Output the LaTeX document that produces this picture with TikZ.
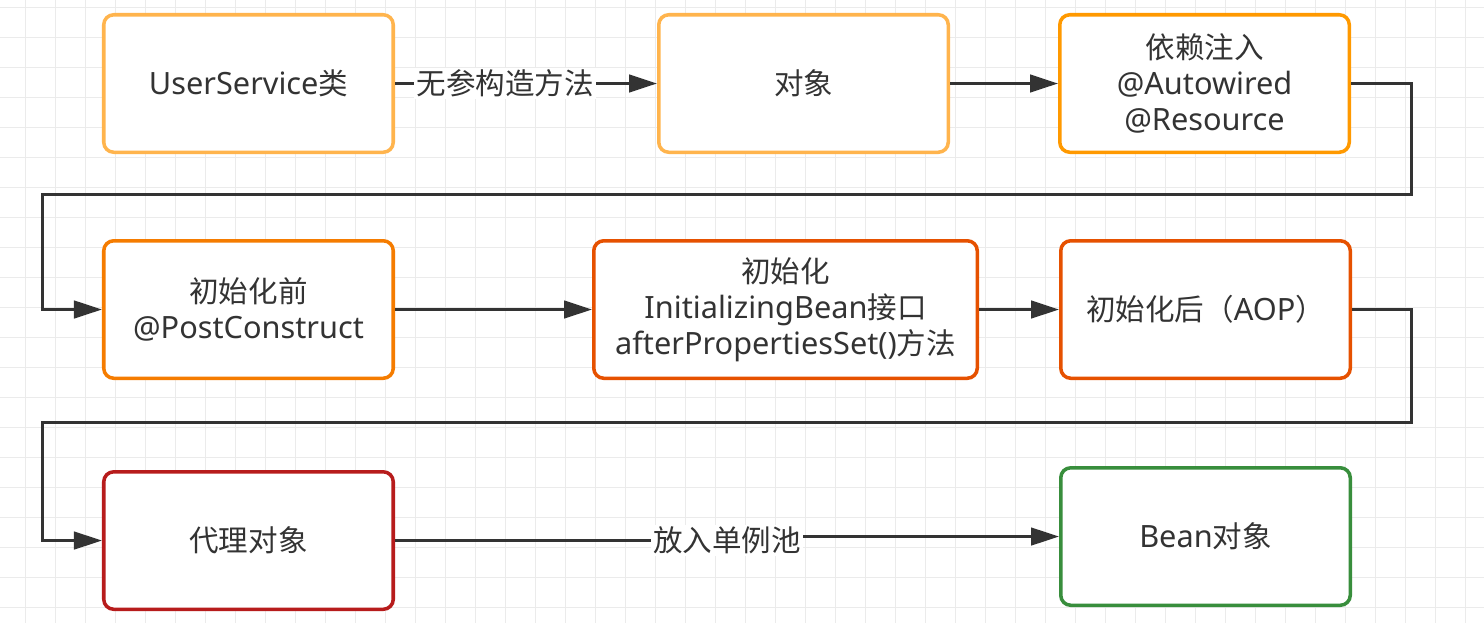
\documentclass[tikz,border=0pt]{standalone}
\usepackage{fontspec}
\setmainfont[Scale=1.04]{Noto Sans}
\newfontfamily\cjkfont{Noto Sans CJK SC}
\newcommand{\zh}[1]{{\cjkfont #1}}
\usepackage{tikz}
\usetikzlibrary{positioning, arrows.meta, calc}
\definecolor{beanPale}{HTML}{FFB44D}
\definecolor{beanAmber}{HTML}{FF9900}
\definecolor{beanOrange}{HTML}{F57C00}
\definecolor{beanDeep}{HTML}{E65100}
\definecolor{beanRed}{HTML}{B71C1C}
\definecolor{beanGreen}{HTML}{388E3C}
\definecolor{beanInk}{HTML}{333333}
\definecolor{beanGrid}{HTML}{EBEBEB}
\tikzset{
    beanBoxBase/.style={
        rectangle,
        draw,
        rounded corners=0.2cm,
        line width=2pt,
        minimum height=2.75cm,
        minimum width=5.79cm,
        fill=white,
        text=beanInk,
        font=\fontsize{16.8}{20.5}\selectfont,
        align=center,
        inner sep=0pt
    },
    % Stage Variants
    pale/.style={beanBoxBase, draw=beanPale},
    amber/.style={beanBoxBase, draw=beanAmber},
    orange/.style={beanBoxBase, draw=beanOrange},
    deep/.style={beanBoxBase, draw=beanDeep},
    proxyred/.style={beanBoxBase, draw=beanRed},
    done/.style={beanBoxBase, draw=beanGreen},
    % Background
    gridLine/.style={draw=beanGrid, line width=0.5pt},
    % Arrows
    beanWire/.style={draw=beanInk, line width=0.06cm},
    beanArrow/.style={beanWire, -{Triangle[length=0.56cm, width=0.35cm]}},
    beanLabel/.style={
        fill=white,
        text=beanInk,
        font=\fontsize{16.8}{20.5}\selectfont,
        inner sep=0.04cm
    }
}

\begin{document}
\begin{tikzpicture}
% canvas and grid
\fill[white] (0,0) rectangle (29.68,-12.46);
\useasboundingbox (0,0) rectangle (29.68,-12.46);
\foreach \gx in {0,...,48}
    \draw[gridLine] ({0.5+0.6*\gx},0) -- ++(0,-12.46);
\foreach \gy in {0,...,20}
    \draw[gridLine] (0,{-0.14-0.6*\gy}) -- ++(29.68,0);

% first row
\node[pale] (cls) at (4.97,-1.67) {UserService\zh{类}};
\node[pale, right=5.24cm of cls] (obj) {\zh{对象}};
\node[amber, right=2.16cm of obj] (inject) {\zh{依赖注入}\\@Autowired\\@Resource};

% second row
\node[orange, below=1.7cm of cls] (preinit) {\zh{初始化前}\\@PostConstruct};
\node[deep, right=3.94cm of preinit, minimum width=7.67cm] (init) {\zh{初始化}\\InitializingBean\zh{接口}\\afterPropertiesSet()\zh{方法}};
\node[deep, right=1.6cm of init] (postinit) {\zh{初始化后（}AOP\zh{）}};

% third row
\node[proxyred, below=1.8cm of preinit] (proxy) {\zh{代理对象}};
\node[done, right=13.28cm of proxy, yshift=0.08cm] (bean) {Bean\zh{对象}};

% turning points
\coordinate (turnA) at (28.22,-3.88);
\coordinate (turnB) at (0.84,-3.88);
\coordinate (turnC) at (28.22,-8.44);
\coordinate (turnD) at (0.84,-8.44);

\draw[beanArrow] (cls) -- node[beanLabel, pos=0.42] {\zh{无参构造方法}} (obj);
\draw[beanArrow] (obj) -- (inject);
\draw[beanArrow] (inject.east) -| (turnA) -- (turnB) |- (preinit.west);
\draw[beanArrow] (preinit) -- (init);
\draw[beanArrow] (init) -- (postinit);
\draw[beanArrow] (postinit.east) -| (turnC) -- (turnD) |- (proxy.west);

\path (proxy.east) -- node[beanLabel, pos=0.5] (pool) {\zh{放入单例池}} (proxy.east -| bean.west);
\draw[beanWire] (proxy.east) -- (pool.west);
\draw[beanArrow] (pool.east |- bean.west) -- (bean.west);
\end{tikzpicture}
\end{document}
